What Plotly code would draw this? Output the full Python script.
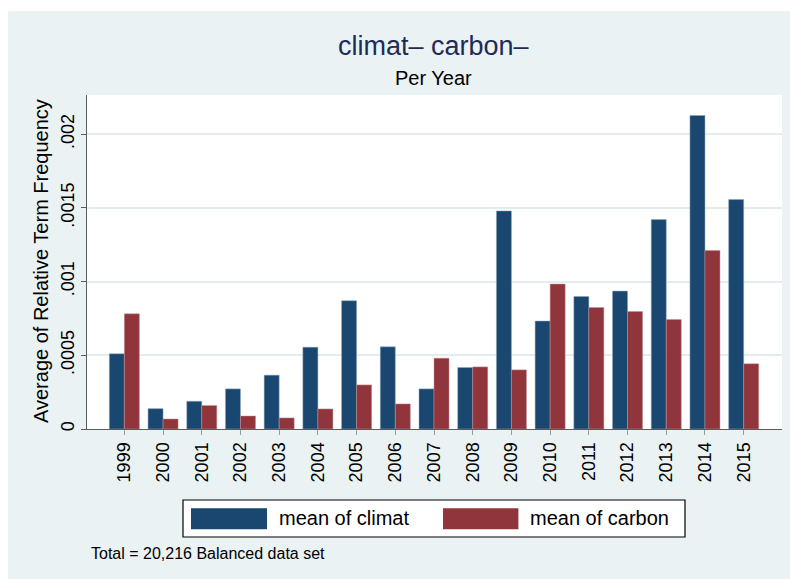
import plotly.graph_objects as go

# Average relative term frequency per year
years = ["1999", "2000", "2001", "2002", "2003", "2004", "2005", "2006", "2007",
         "2008", "2009", "2010", "2011", "2012", "2013", "2014", "2015"]
climat = [0.000510, 0.000138, 0.000188, 0.000272, 0.000365, 0.000555, 0.000870,
          0.000557, 0.000272, 0.000417, 0.001479, 0.000732, 0.000899, 0.000935,
          0.001420, 0.002126, 0.001556]
carbon = [0.000781, 0.000068, 0.000159, 0.000088, 0.000075, 0.000136, 0.000299,
          0.000170, 0.000480, 0.000421, 0.000401, 0.000983, 0.000824, 0.000797,
          0.000743, 0.001211, 0.000442]

y_ticks = [0, 0.0005, 0.001, 0.0015, 0.002]
y_tick_text = ["0", ".0005", ".001", ".0015", ".002"]

series_names = ["mean of climat", "mean of carbon"]
NAVY = "#1a476f"
MAROON = "#90353b"
BG = "#eaf2f3"
FONT = "Liberation Sans, Arial, sans-serif"

W, H = 790, 579
ML, MR, MT, MB = 87, 8, 95, 150
PW, PH = W - ML - MR, H - MT - MB


def px_x(x):
    return (x - ML) / PW


def px_y(y):
    return (H - MB - y) / PH


fig = go.Figure()
fig.add_trace(go.Bar(x=years, y=climat, name=series_names[0],
                     marker=dict(color=NAVY, line=dict(color="#8fa6bd", width=0.5))))
fig.add_trace(go.Bar(x=years, y=carbon, name=series_names[1],
                     marker=dict(color=MAROON, line=dict(color="#c48f93", width=0.5))))

shapes = [
    # white page strips outside the graph region
    dict(type="rect", xref="paper", yref="paper", x0=px_x(-5), x1=px_x(W + 5),
         y0=px_y(11), y1=px_y(-5), fillcolor="white", line_width=0, layer="below"),
    dict(type="rect", xref="paper", yref="paper", x0=px_x(-5), x1=px_x(8),
         y0=px_y(H + 5), y1=px_y(-5), fillcolor="white", line_width=0, layer="below"),
    # legend box and swatches
    dict(type="rect", xref="paper", yref="paper", x0=px_x(183), x1=px_x(685),
         y0=px_y(537), y1=px_y(500), fillcolor="white",
         line=dict(color="black", width=1.2)),
    dict(type="rect", xref="paper", yref="paper", x0=px_x(191), x1=px_x(267),
         y0=px_y(529.3), y1=px_y(508.3), fillcolor=NAVY, line_width=0),
    dict(type="rect", xref="paper", yref="paper", x0=px_x(443), x1=px_x(518.4),
         y0=px_y(529.3), y1=px_y(508.3), fillcolor=MAROON, line_width=0),
]

annotations = [
    dict(text="climat\u2013 carbon\u2013", x=px_x(433.6), y=px_y(45.5),
         xref="paper", yref="paper", xanchor="center", yanchor="middle",
         showarrow=False, font=dict(family=FONT, size=27, color="#1e2b57")),
    dict(text="Per Year", x=px_x(433.6), y=px_y(78),
         xref="paper", yref="paper", xanchor="center", yanchor="middle",
         showarrow=False, font=dict(family=FONT, size=20, color="black")),
    dict(text="Average of Relative Term Frequency", x=px_x(40.5), y=px_y(261.5),
         xref="paper", yref="paper", xanchor="center", yanchor="middle",
         textangle=-90, showarrow=False, font=dict(family=FONT, size=20, color="black")),
    dict(text=series_names[0], x=px_x(277), y=px_y(518),
         xref="paper", yref="paper", xanchor="left", yanchor="middle",
         showarrow=False, font=dict(family=FONT, size=20, color="black")),
    dict(text=series_names[1], x=px_x(528), y=px_y(518),
         xref="paper", yref="paper", xanchor="left", yanchor="middle",
         showarrow=False, font=dict(family=FONT, size=20, color="black")),
    dict(text="Total = 20,216 Balanced data set", x=px_x(89), y=px_y(553),
         xref="paper", yref="paper", xanchor="left", yanchor="middle",
         showarrow=False, font=dict(family=FONT, size=16, color="black")),
]

fig.update_layout(
    width=W, height=H,
    margin=dict(l=ML, r=MR, t=MT, b=MB, pad=0),
    paper_bgcolor=BG, plot_bgcolor="white",
    barmode="group", bargap=0.224, bargroupgap=0,
    showlegend=False,
    font=dict(family=FONT, size=18, color="black"),
    shapes=shapes, annotations=annotations,
)
fig.update_xaxes(
    type="category", range=[-0.965, 16.99],
    tickangle=-90, ticks="outside", ticklen=5, tickcolor="#9a9a9a", tickwidth=1,
    showline=True, linecolor="#5c5c5c", linewidth=1.3,
    showgrid=False, tickfont=dict(family=FONT, size=18, color="black"),
)
fig.update_yaxes(
    range=[0, 0.002265], tickvals=y_ticks, ticktext=y_tick_text,
    tickangle=-90, ticks="outside", ticklen=5, tickcolor="#5c5c5c", tickwidth=1.2,
    showline=True, linecolor="#5c5c5c", linewidth=1.3,
    showgrid=True, gridcolor="#e3ecee", gridwidth=1.5, zeroline=False,
    tickfont=dict(family=FONT, size=18, color="black"),
)

fig.write_html("out.html")
